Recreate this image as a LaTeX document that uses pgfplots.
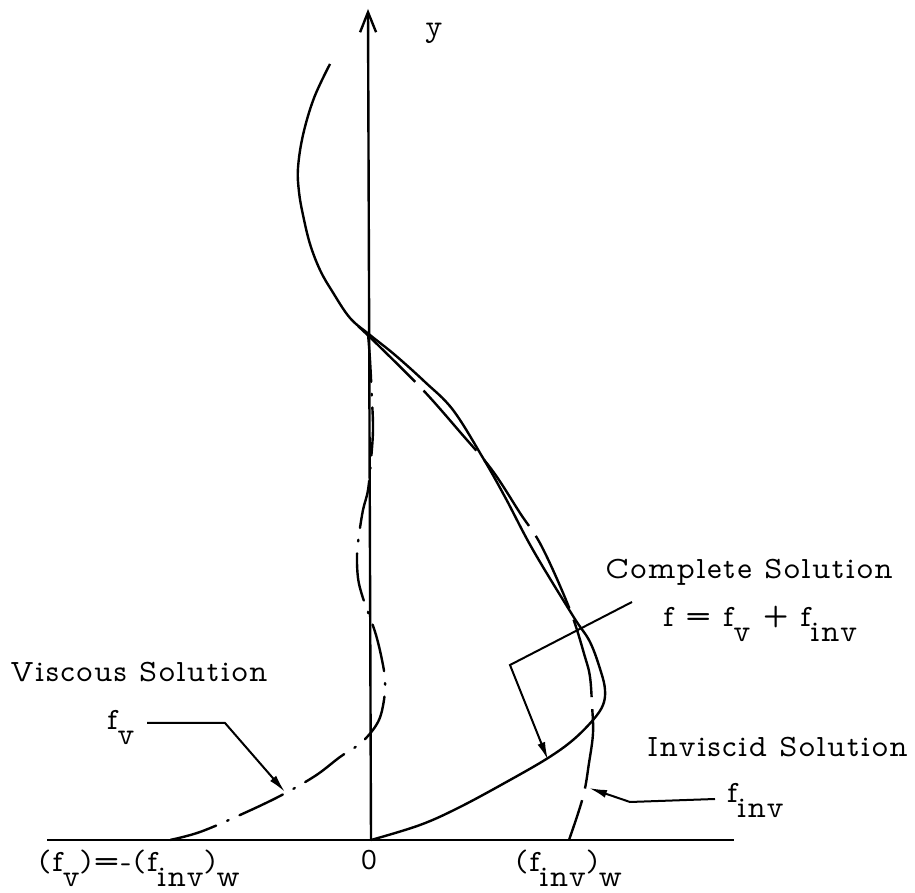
\documentclass[border=0pt]{standalone}
\usepackage{fontspec}
\usepackage{pgfplots}
\pgfplotsset{compat=1.18}
\usetikzlibrary{arrows.meta}
\newfontfamily\typeface[LetterSpace=5]{lmmonoprop10-regular.otf}
% lowered subscript
\newcommand{\lo}[1]{\raisebox{-1.1ex}{#1}}
\tikzset{
  lbl/.style={font=\fontsize{15.5}{18}\selectfont\typeface, inner sep=0pt},
}
\pgfplotsset{
  curve/.style={line width=1.2pt, smooth, tension=0.6, no marks, black},
  pointer/.style={line width=1pt, no marks, black, -{Latex[length=9pt,width=4pt]}},
}
\begin{document}
\begin{tikzpicture}
\begin{axis}[
  hide axis, clip=false, scale only axis,
  x=0.5pt, y=0.5pt,
  xmin=-370, xmax=545, ymin=-53, ymax=840,
]
% frame of the page
\path (axis cs:-370,-53) rectangle (axis cs:545,840);

% axes
\addplot[line width=1.1pt, no marks] coordinates {(-323,0) (364,0)};
\addplot[line width=1.2pt, no marks, -{Straight Barb[length=10pt,width=8pt]}]
  coordinates {(1,0) (-2,831)};

% complete solution f = f_v + f_inv
\addplot[curve] coordinates {
 (-40,776) (-56,742) (-67,705) (-72,672) (-71,648) (-67,625) (-60,596)
 (-50,570) (-38,549) (-20,522) (0,505) (25,485) (55,458) (83,430)
 (113,382) (135,343) (163,290) (203,224) (220,198) (231,168) (235,150)
 (233,135) (223,120) (203,100) (178,82) (140,60) (90,33) (50,15) (1,0)};

% inviscid solution f_inv
\addplot[curve, dash pattern=on 40pt off 6pt] coordinates {
 (-12,514) (10,493) (53,450) (90,408) (122,370) (150,327) (172,293)
 (200,230) (215,183) (220,163) (222,135) (223,107) (219,77) (213,43) (199,0)};

% viscous solution f_v
\addplot[curve, line cap=round, dash pattern=on 24pt off 6pt on 0.8pt off 6pt] coordinates {
 (-2,506) (0,480) (2,440) (3,410) (1,380) (-2,350) (-7,330) (-11,305)
 (-13,285) (-12,262) (-8,245) (-2,228) (6,205) (12,180) (15,160) (14,140)
 (8,118) (-8,98) (-30,83) (-55,64) (-90,44) (-130,25) (-170,8) (-200,0)};

% leader lines
\addplot[pointer] coordinates {(-223,117) (-145,117) (-85,48)};
\addplot[pointer] coordinates {(262,238) (140,175) (178,80)};
\addplot[pointer] coordinates {(345,41) (260,38) (219,52)};

% labels
\node[lbl, anchor=base west] at (axis cs:55,803) {y};
\node[lbl, anchor=base west] at (axis cs:-360,158) {Viscous Solution};
\node[lbl, anchor=base west] at (axis cs:-263,110) {f\lo{v}};
\node[lbl, anchor=base west] at (axis cs:235,261) {Complete Solution};
\node[lbl, anchor=base west] at (axis cs:293,213) {f = f\lo{v} + f\lo{inv}};
\node[lbl, anchor=base west] at (axis cs:277,83) {Inviscid Solution};
\node[lbl, anchor=base west] at (axis cs:357,37) {f\lo{inv}};
\node[lbl, anchor=base west] at (axis cs:-332,-32) {(f\lo{v})=-(f\lo{inv})\lo{w}};
\node[lbl, anchor=base] at (axis cs:-1,-30) {0};
\node[lbl, anchor=base west] at (axis cs:145,-32) {(f\lo{inv})\lo{w}};
\end{axis}
\end{tikzpicture}
\end{document}
